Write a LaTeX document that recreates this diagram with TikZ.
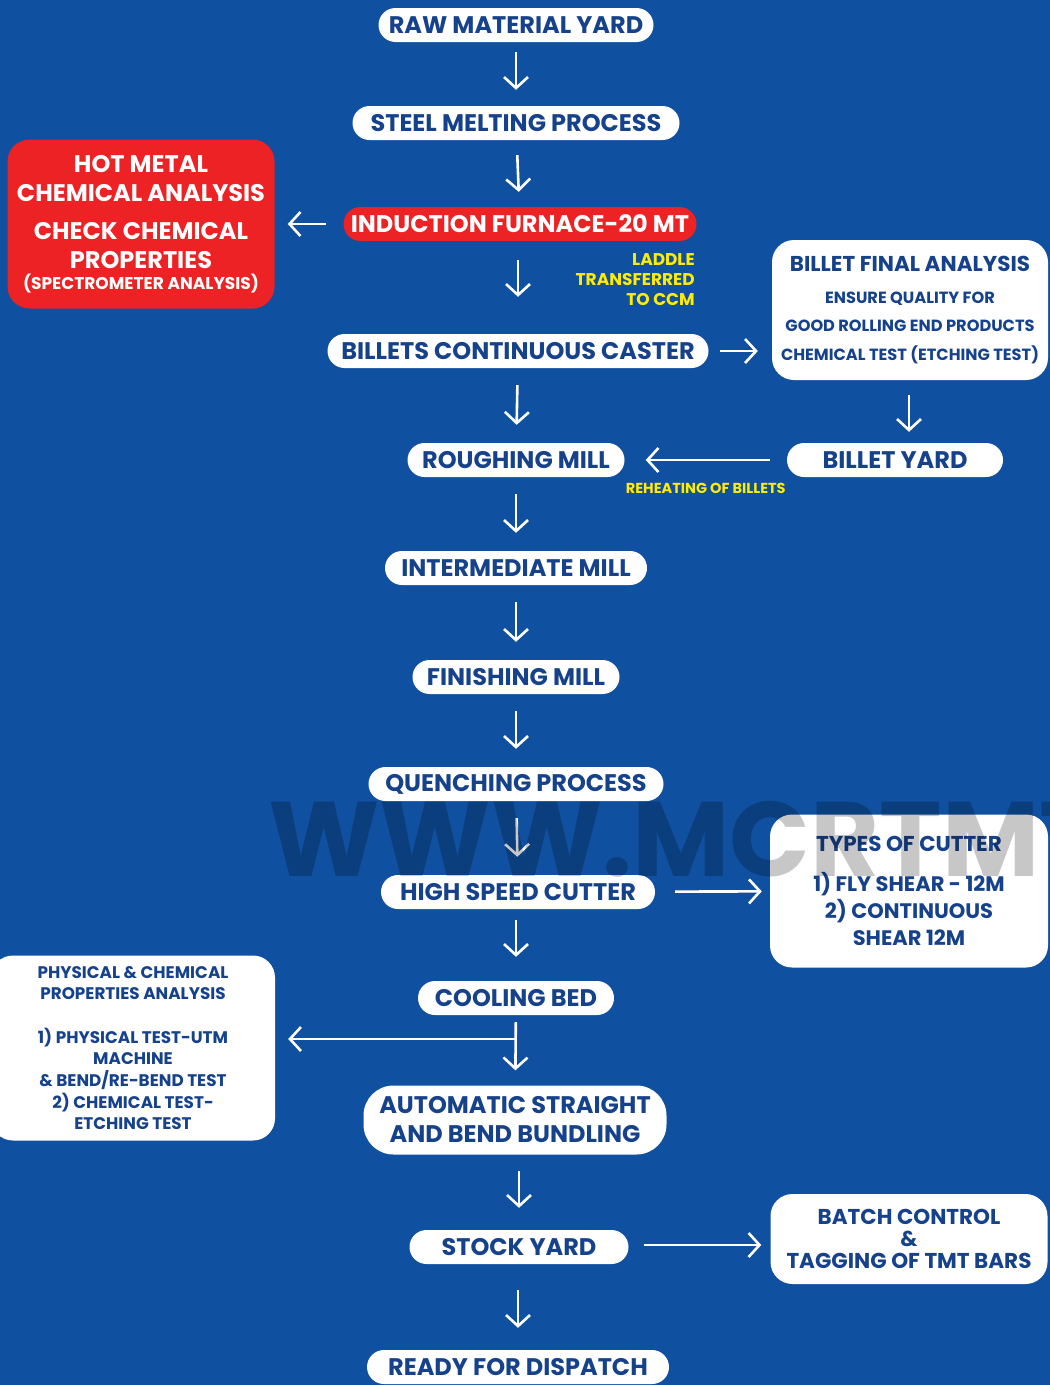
\documentclass[tikz,border=0pt]{standalone}
\usepackage{fontspec}
\setmainfont{Poppins}
\usetikzlibrary{arrows.meta,positioning,calc}
\definecolor{bgblue}{RGB}{15,80,160}
\definecolor{textblue}{RGB}{22,66,140}
\definecolor{hotred}{RGB}{236,34,37}
\definecolor{noteyellow}{RGB}{255,236,0}

\begin{document}
\begin{tikzpicture}[x=1pt, y=-1pt,
    pill/.style={fill=white, rounded corners=17pt, minimum height=34pt, inner xsep=0pt, text=textblue, font=\fontsize{24}{28}\selectfont\bfseries},
    redpill/.style={pill, fill=hotred, text=white},
    card/.style={fill=white, rounded corners=22pt, inner sep=0pt, align=center, text=textblue, font=\bfseries},
    arrow/.style={white, line width=2.6pt, -{Straight Barb[length=11pt, width=24pt]}, shorten <=17pt, shorten >=18pt},
    note/.style={text=noteyellow, font=\fontsize{17}{20}\selectfont\bfseries, inner sep=0pt}
]
\fill[bgblue] (0,0) rectangle (1050,1385);
\clip (0,0) rectangle (1050,1385);

% main flow
\node[pill, minimum width=275pt] (raw) at (516,25) {RAW MATERIAL YARD};
\node[pill, minimum width=327pt] (steel) at (516,123) {STEEL MELTING PROCESS};
\node[redpill, minimum width=353pt] (furnace) at (520,224) {INDUCTION FURNACE-20 MT};
\node[pill, minimum width=381pt] (caster) at (518,351) {BILLETS CONTINUOUS CASTER};
\node[pill, minimum width=217pt] (rough) at (516,460) {ROUGHING MILL};
\node[pill, minimum width=262pt] (inter) at (516,568) {INTERMEDIATE MILL};
\node[pill, minimum width=207pt] (finish) at (516,677) {FINISHING MILL};
\node[pill, minimum width=295pt] (quench) at (516,784) {QUENCHING PROCESS};
\node[pill, minimum width=274pt] (cutter) at (518,892) {HIGH SPEED CUTTER};
\node[pill, minimum width=196pt] (cooling) at (516,998) {COOLING BED};
\node[pill, minimum width=303pt, minimum height=69pt, rounded corners=30pt, align=center, font=\fontsize{24}{29}\selectfont\bfseries] (auto) at (515,1120) {AUTOMATIC STRAIGHT\\AND BEND BUNDLING};
\node[pill, minimum width=219pt] (stock) at (519,1247) {STOCK YARD};
\node[pill, minimum width=302pt] (dispatch) at (518,1367) {READY FOR DISPATCH};

% side boxes
\node[card, fill=hotred, text=white, minimum width=267pt, minimum height=169pt, font=\fontsize{24}{28.5}\selectfont\bfseries] (hotmetal) at (141,224)
  {HOT METAL\\CHEMICAL ANALYSIS\\[10pt]CHECK CHEMICAL\\PROPERTIES\\[-7.5pt]{\fontsize{17}{20}\selectfont(SPECTROMETER ANALYSIS)}};
\node[card, minimum width=276pt, minimum height=140pt, font=\fontsize{16.2}{28.5}\selectfont\bfseries] (final) at (910,310)
  {{\fontsize{21.5}{25}\selectfont BILLET FINAL ANALYSIS}\\[3pt]ENSURE QUALITY FOR\\GOOD ROLLING END PRODUCTS\\CHEMICAL TEST (ETCHING TEST)};
\node[pill, minimum width=216pt] (byard) at (895,460) {BILLET YARD};
\node[card, minimum width=278pt, minimum height=153pt, font=\fontsize{21}{27}\selectfont\bfseries] (types) at (909,891)
  {{\fontsize{21.5}{22}\selectfont TYPES OF CUTTER}\\[13pt]1) FLY SHEAR - 12M\\2) CONTINUOUS\\SHEAR 12M};
\node[card, minimum width=284pt, minimum height=185pt, font=\fontsize{16.8}{21.7}\selectfont\bfseries] (phys) at (133,1048)
  {PHYSICAL \& CHEMICAL\\PROPERTIES ANALYSIS\\ \\1) PHYSICAL TEST-UTM\\MACHINE\\\& BEND/RE-BEND TEST\\2) CHEMICAL TEST-\\ETCHING TEST};
\node[card, minimum width=277pt, minimum height=90pt, font=\fontsize{21.5}{22}\selectfont\bfseries] (batch) at (909,1239)
  {BATCH CONTROL\\\&\\TAGGING OF TMT BARS};

% notes
\node[note, anchor=east, align=right] (laddle) at (695,280) {LADDLE\\TRANSFERRED\\TO CCM};

% connectors
\draw[arrow, shorten <=10pt, shorten >=16pt] (raw) -- (steel);
\draw[arrow, shorten <=15pt, shorten >=15pt] (steel) -- (furnace);
\draw[arrow, shorten <=19pt, shorten >=37pt] (furnace.south -| caster) -- (caster);
\draw[arrow] (caster) -- (rough);
\draw[arrow] (rough) -- (inter);
\draw[arrow] (inter) -- (finish);
\draw[arrow] (finish) -- (quench);
\draw[arrow] (quench) -- (cutter);
\draw[arrow, shorten <=11pt, shorten >=24pt] (cutter.south -| cooling) -- (cooling);
\draw[arrow, shorten <=7pt, shorten >=15pt] (cooling) -- (auto);
\draw[arrow, shorten <=16pt, shorten >=22pt] (auto.south -| stock) -- (stock);
\draw[arrow, shorten <=26pt, shorten >=22pt] (stock.south -| dispatch) -- (dispatch);

\draw[arrow, shorten <=17pt, shorten >=13pt] (furnace) -- (furnace -| hotmetal.east);
\draw[arrow, shorten <=11pt, shorten >=14pt] (caster.east) -- (caster.east -| final.west);
\draw[arrow, shorten <=15pt, shorten >=11pt] (final.south -| 909,0) -- (byard.north -| 909,0);
\draw[arrow, shorten <=17pt, shorten >=21pt] (byard) -- (rough)
  node[note, midway, below=22pt] (reheat) {\fontsize{14.5}{16}\selectfont REHEATING OF BILLETS};
\draw[arrow, shorten <=20pt, shorten >=8pt] (cutter) -- (types);
\coordinate (split) at (516,1039);
\draw[arrow, shorten <=0pt, shorten >=13pt] (split) -- (split -| phys.east);
\draw[arrow, shorten <=15pt, shorten >=9pt] (stock.east |- 0,1245) -- (batch.west |- 0,1245);

% watermark
\node[anchor=base west, inner sep=0pt, text=black, text opacity=0.22, font=\fontsize{106}{106}\selectfont\bfseries] (mark) at (268,876) {WWW.MCRTMT};
\end{tikzpicture}
\end{document}
